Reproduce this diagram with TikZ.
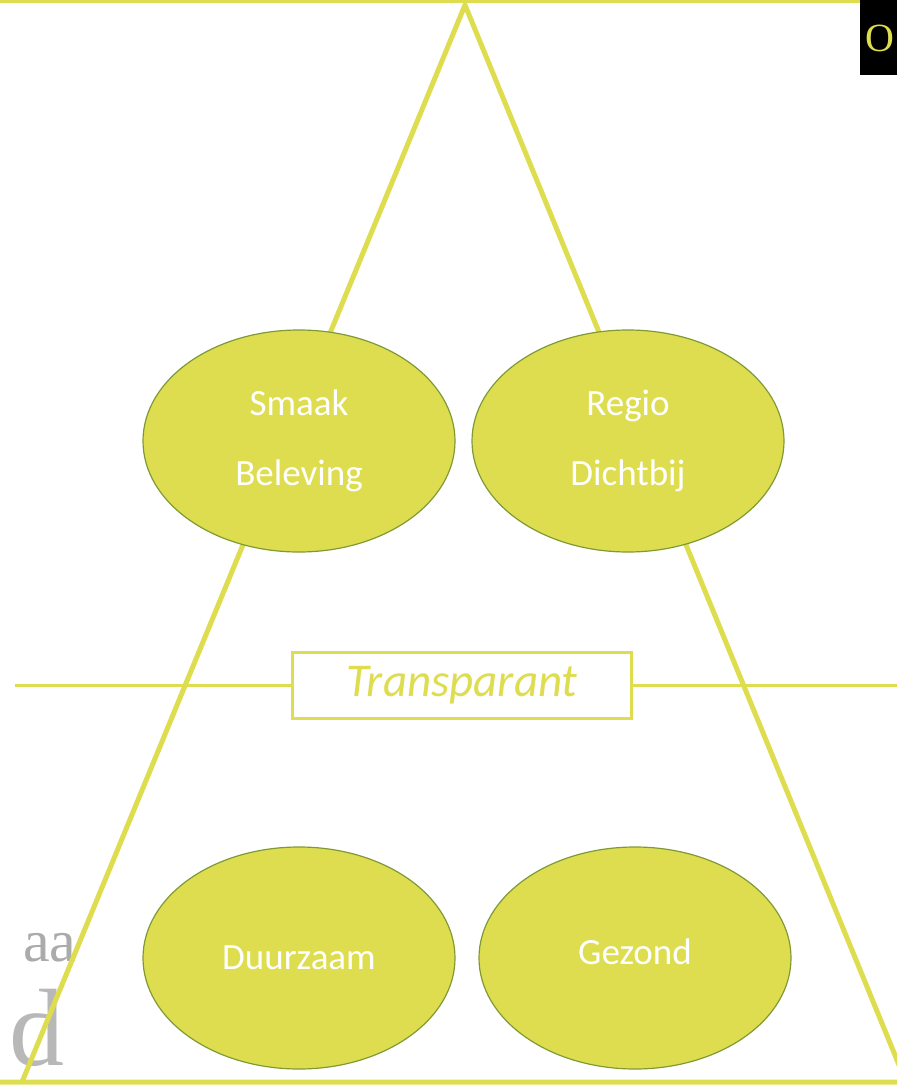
\documentclass[tikz,border=0pt]{standalone}
\usepackage{fontspec}
\setmainfont{Carlito}
\newfontfamily\serif{Liberation Serif}
\usepackage{tikz}
\usetikzlibrary{shapes.geometric}
\definecolor{lime}{HTML}{DEDD4F}
\definecolor{rim}{HTML}{7F9A35}
\tikzset{
  bol/.style={ellipse, draw=rim, fill=lime, line width=1.2pt, minimum width=312pt, minimum height=222pt,
    inner sep=0pt, text=white, align=center, font=\fontsize{37}{70}\selectfont},
  lijn/.style={draw=lime, line width=5pt}
}

\begin{document}
\begin{tikzpicture}[x=1pt,y=-1pt]
            \useasboundingbox (0,0) rectangle (897,1089);
            \clip (0,0) rectangle (897,1089);
            \coordinate (T) at (465,5);
            \coordinate (L) at (22,1082);
            \coordinate (R) at (906,1082);
            % grey letters behind
            \node[anchor=east, text=black!33, font=\serif\fontsize{60}{60}\selectfont] (aa) at (80,948) {aa};
            \node[anchor=east, text=black!28, font=\serif\fontsize{110}{110}\selectfont] (d) at (68,1028) {d};
            \fill[black] (860,0) rectangle (897,75);
            \node[text=lime, font=\serif\fontsize{40}{40}\selectfont] (o) at (880,38) {O};
            \draw[lime, line width=3pt] (0,1.5) -- (860,1.5);
            \draw[lijn, line join=miter] (L) -- (T) -- (R) -- (L) -- (0,1082);
            \node[draw=lime, line width=3pt, fill=white, minimum width=339pt, minimum height=66pt, inner sep=0pt,
              text=lime, font=\fontsize{47}{47}\selectfont\itshape] (tr) at (462,685) {\raisebox{-5pt}{Transparant}};
            \coordinate (w) at (15,685);
            \coordinate (e) at (897,685);
            \draw[lime, line width=3pt] (w) -- (tr.west) (tr.east) -- (e);
            \node[bol] (smaak) at (299,441) {\raisebox{6pt}{Smaak}\\\raisebox{6pt}{Beleving}};
            \node[bol] (regio) at (628,441) {\raisebox{6pt}{Regio}\\\raisebox{6pt}{Dichtbij}};
            \node[bol] (duurzaam) at (299,958) {Duurzaam};
            \node[bol] (gezond) at (635,958) {\raisebox{12pt}{Gezond}};
        \end{tikzpicture}
\end{document}
